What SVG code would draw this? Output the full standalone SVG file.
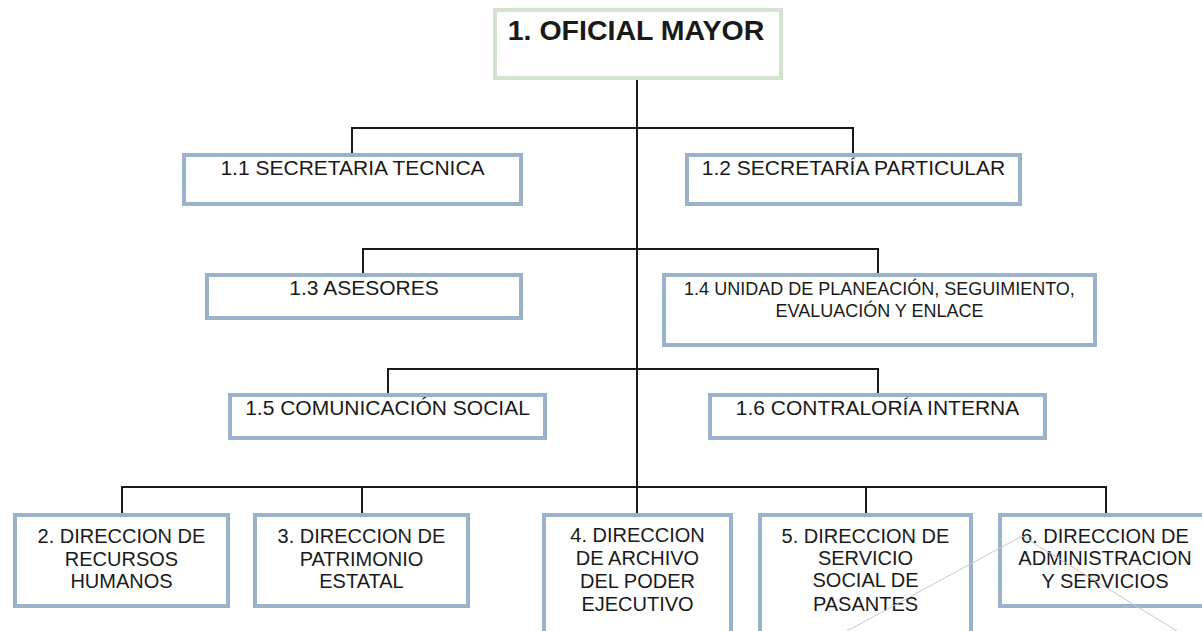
<svg xmlns="http://www.w3.org/2000/svg" width="1202" height="631" viewBox="0 0 1202 631">
<style>
.box{fill:#fff;stroke:#9bb1cc;stroke-width:4}
.top{fill:#fff;stroke:#d4e3d0;stroke-width:4}
.t{font-family:"Liberation Sans",Arial,sans-serif;font-size:21px;fill:#1a1a1a;text-anchor:middle}
.s{font-size:18px}
.r{font-size:20px}
.b{font-size:28.5px;font-weight:bold}
.c{fill:none;stroke:#1a1a1a;stroke-width:2}
.g{fill:none;stroke:#c8c8c8;stroke-width:1}
</style>
<rect width="1202" height="631" fill="#fff"/>
<g id="connectors">
<line class="c" x1="637" y1="80" x2="637" y2="513"/>
<polyline class="c" points="352,153 352,128 853,128 853,153"/>
<polyline class="c" points="363,273 363,249 878,249 878,273"/>
<polyline class="c" points="388,393 388,369 878,369 878,393"/>
<polyline class="c" points="122,513 122,487 1106,487 1106,513"/>
<line class="c" x1="362" y1="487" x2="362" y2="513"/>
<line class="c" x1="866" y1="487" x2="866" y2="513"/>
</g>
<g id="n1">
<rect class="top" x="495" y="10" width="286" height="68"/>
<text class="t b" x="636" y="40">1. OFICIAL MAYOR</text>
</g>
<g id="n1_1">
<rect class="box" x="184" y="155" width="337" height="49"/>
<text class="t" x="352.5" y="175">1.1 SECRETARIA TECNICA</text>
</g>
<g id="n1_2">
<rect class="box" x="687" y="155" width="333" height="49"/>
<text class="t" x="853.5" y="175">1.2 SECRETARÍA PARTICULAR</text>
</g>
<g id="n1_3">
<rect class="box" x="207" y="275" width="314" height="43"/>
<text class="t" x="364" y="295">1.3 ASESORES</text>
</g>
<g id="n1_4">
<rect class="box" x="664" y="275" width="431" height="70"/>
<text class="t s" x="879.5" y="295">1.4 UNIDAD DE PLANEACIÓN, SEGUIMIENTO,</text>
<text class="t s" x="879.5" y="317">EVALUACIÓN Y ENLACE</text>
</g>
<g id="n1_5">
<rect class="box" x="230" y="395" width="315" height="43"/>
<text class="t" x="387.5" y="415">1.5 COMUNICACIÓN SOCIAL</text>
</g>
<g id="n1_6">
<rect class="box" x="710" y="395" width="335" height="43"/>
<text class="t" x="877.5" y="415">1.6 CONTRALORÍA INTERNA</text>
</g>
<g id="n2">
<rect class="box" x="15" y="515" width="213" height="91"/>
<text class="t r" x="121.5" y="543">2. DIRECCION DE</text>
<text class="t r" x="121.5" y="566">RECURSOS</text>
<text class="t r" x="121.5" y="588">HUMANOS</text>
</g>
<g id="n3">
<rect class="box" x="255" y="515" width="213" height="91"/>
<text class="t r" x="361.5" y="543">3. DIRECCION DE</text>
<text class="t r" x="361.5" y="566">PATRIMONIO</text>
<text class="t r" x="361.5" y="588">ESTATAL</text>
</g>
<g id="n4">
<rect class="box" x="544" y="515" width="187" height="130"/>
<text class="t r" x="637.5" y="542">4. DIRECCION</text>
<text class="t r" x="637.5" y="565">DE ARCHIVO</text>
<text class="t r" x="637.5" y="588">DEL PODER</text>
<text class="t r" x="637.5" y="611">EJECUTIVO</text>
</g>
<g id="n5">
<rect class="box" x="760" y="515" width="211" height="130"/>
<text class="t r" x="865.5" y="543">5. DIRECCION DE</text>
<text class="t r" x="865.5" y="565">SERVICIO</text>
<text class="t r" x="865.5" y="587">SOCIAL DE</text>
<text class="t r" x="865.5" y="611">PASANTES</text>
</g>
<g id="n6">
<rect class="box" x="1000" y="515" width="210" height="91"/>
<text class="t r" x="1105" y="543">6. DIRECCION DE</text>
<text class="t r" x="1105" y="565">ADMINISTRACION</text>
<text class="t r" x="1105" y="588">Y SERVICIOS</text>
</g>
<g id="lines">
<line class="g" x1="847" y1="631" x2="1022" y2="536"/>
<line class="g" x1="1022" y1="536" x2="1177" y2="631"/>
</g>
</svg>
